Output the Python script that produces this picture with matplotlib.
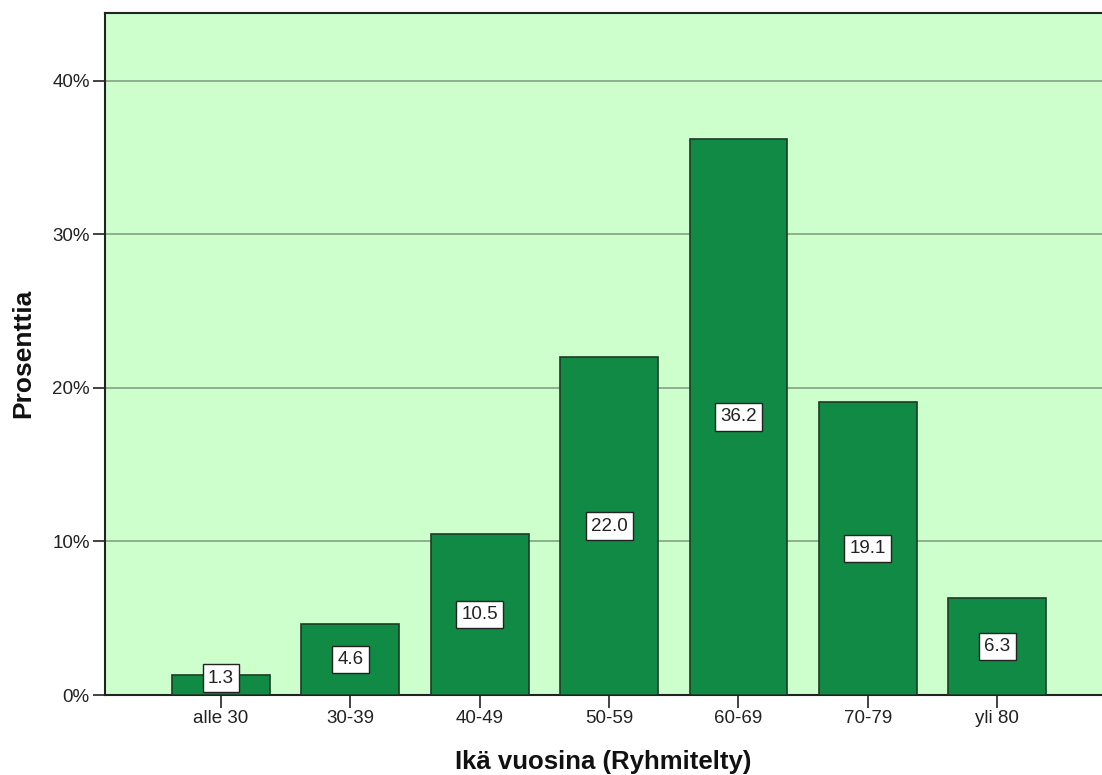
import matplotlib
matplotlib.use("Agg")
import matplotlib.pyplot as plt
from matplotlib.ticker import FuncFormatter

categories = ["alle 30", "30-39", "40-49", "50-59", "60-69", "70-79", "yli 80"]
values = [1.3, 4.6, 10.5, 22.0, 36.2, 19.1, 6.3]
yticks = [0, 10, 20, 30, 40]

plt.rcParams['font.family'] = ['Liberation Sans', 'DejaVu Sans']

fig = plt.figure(figsize=(11.02, 7.75), dpi=100)
ax = fig.add_axes([105/1102, 80/775, 1 - 105/1102, (695 - 12.5)/775])
ax.set_facecolor('#CCFFCC')

x = list(range(len(categories)))
ax.bar(x, values, width=0.757, color='#108A45', edgecolor='#1E3A26', linewidth=1.2, zorder=3)

for xi, v in zip(x, values):
    ax.text(xi, max(v / 2, 1.1), f"{v:.1f}", ha='center', va='center', fontsize=13.5,
            color='#222222', zorder=5,
            bbox=dict(boxstyle='square,pad=0.28', facecolor='white', edgecolor='#222222', linewidth=1.0))

ax.set_xlim(-0.897, 6.81)
ax.set_ylim(0, 44.43)
ax.set_yticks(yticks)
ax.yaxis.set_major_formatter(FuncFormatter(lambda v, p: f"{v:.0f}%"))
ax.set_xticks(x)
ax.set_xticklabels(categories)
ax.grid(axis='y', color='#8AA88A', linewidth=1.3, zorder=1)
ax.set_axisbelow(True)

ax.tick_params(axis='both', direction='out', length=9, width=1.2, color='#222222',
               labelsize=13.5, labelcolor='#222222', pad=2)

for s in ['top', 'left', 'bottom']:
    ax.spines[s].set_color('#222222')
    ax.spines[s].set_linewidth(1.5)
ax.spines['right'].set_visible(False)

ax.set_ylabel("Prosenttia", fontsize=19, fontweight='bold', color='#111111', labelpad=12)
ax.set_xlabel("Ikä vuosina (Ryhmitelty)", fontsize=18.5, fontweight='bold', color='#111111', labelpad=16)

fig.savefig("out.png", dpi=100, facecolor='white')
